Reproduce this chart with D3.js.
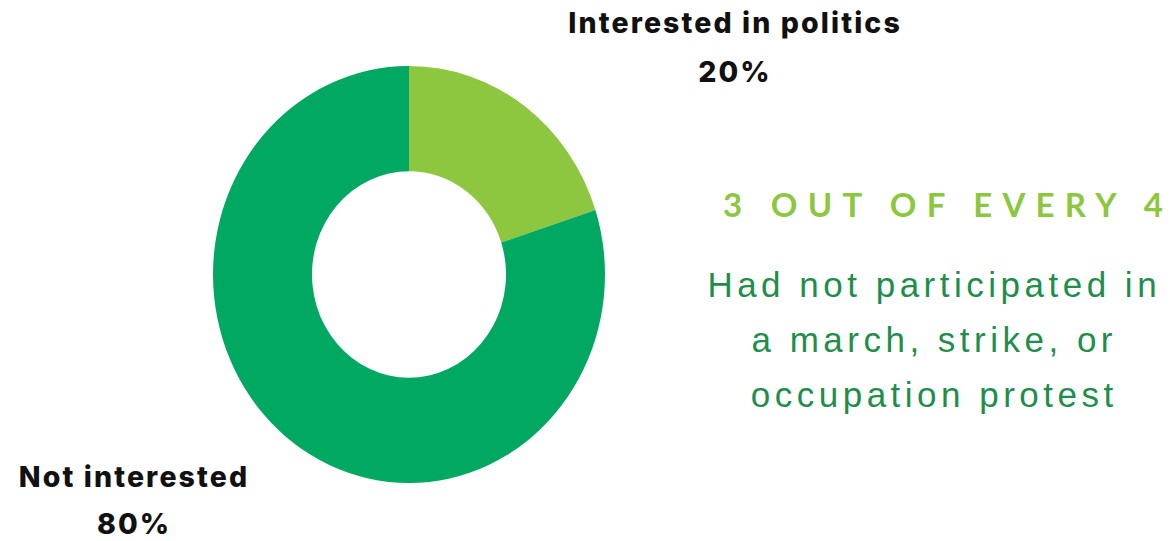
<!DOCTYPE html>
<html>
<head>
<meta charset="utf-8">
<script src="https://cdn.jsdelivr.net/npm/d3@7/dist/d3.min.js"></script>
<style>
  html, body { margin: 0; padding: 0; background: #ffffff; }
  svg { display: block; }
</style>
</head>
<body>
<svg id="chart" width="1171" height="541"></svg>
<script>
// Survey share by interest in politics
const categories = ["Interested in politics", "Not interested"];
const shares = [20, 80];
const sliceColors = ["#8dc63f", "#00a862"];

const headline = "3 OUT OF EVERY 4";
const noteLines = ["Had not participated in", "a march, strike, or", "occupation protest"];

const svg = d3.select("#chart");

// Donut geometry
const cx = 409, cy = 274.5;
const outerR = 196, innerR = 97;
const stretchY = 1.064;

const pie = d3.pie().sort(null).value(d => d.value);
const arcs = pie(categories.map((c, i) => ({ name: c, value: shares[i] })));
const arc = d3.arc().innerRadius(innerR).outerRadius(outerR);

const donut = svg.append("g")
  .attr("transform", `translate(${cx},${cy}) scale(1,${stretchY})`);

donut.selectAll("path")
  .data(arcs)
  .join("path")
  .attr("d", arc)
  .attr("fill", (d, i) => sliceColors[i]);

// Slice labels (name on the first line, share on the second)
const labelFont = "'Inter', 'Noto Sans', sans-serif";
const labelLs = 2.1;
const labelPos = [
  { x: 734, y1: 33, y2: 82 },
  { x: 133, y1: 487, y2: 534 }
];
const fmt = d => d + "%";

const labels = svg.append("g").selectAll("text")
  .data(arcs)
  .join("text")
  .attr("text-anchor", "middle")
  .attr("font-family", labelFont)
  .attr("font-weight", 800)
  .attr("font-size", 28.5)
  .attr("letter-spacing", labelLs)
  .attr("fill", "#111111");

labels.append("tspan")
  .attr("x", (d, i) => labelPos[i].x + labelLs / 2)
  .attr("y", (d, i) => labelPos[i].y1)
  .text(d => d.data.name);

labels.append("tspan")
  .attr("x", (d, i) => labelPos[i].x + labelLs / 2)
  .attr("y", (d, i) => labelPos[i].y2)
  .text(d => fmt(d.data.value));

// Side note: spaced-out headline spread over a fixed width
svg.append("text")
  .attr("x", 723)
  .attr("y", 217)
  .attr("text-anchor", "start")
  .attr("font-family", "'Lato', 'Open Sans', sans-serif")
  .attr("font-weight", 700)
  .attr("font-size", 33)
  .attr("textLength", 440)
  .attr("lengthAdjust", "spacing")
  .attr("fill", "#8dc63f")
  .text(headline);

const noteLs = 4.5;
svg.append("g").selectAll("text")
  .data(noteLines)
  .join("text")
  .attr("x", 932 + noteLs / 2)
  .attr("y", (d, i) => 297 + i * 55)
  .attr("text-anchor", "middle")
  .attr("font-family", "'Liberation Sans', Arial, sans-serif")
  .attr("font-size", 35)
  .attr("letter-spacing", noteLs)
  .attr("fill", "#1e8e4a")
  .text(d => d);
</script>
</body>
</html>
